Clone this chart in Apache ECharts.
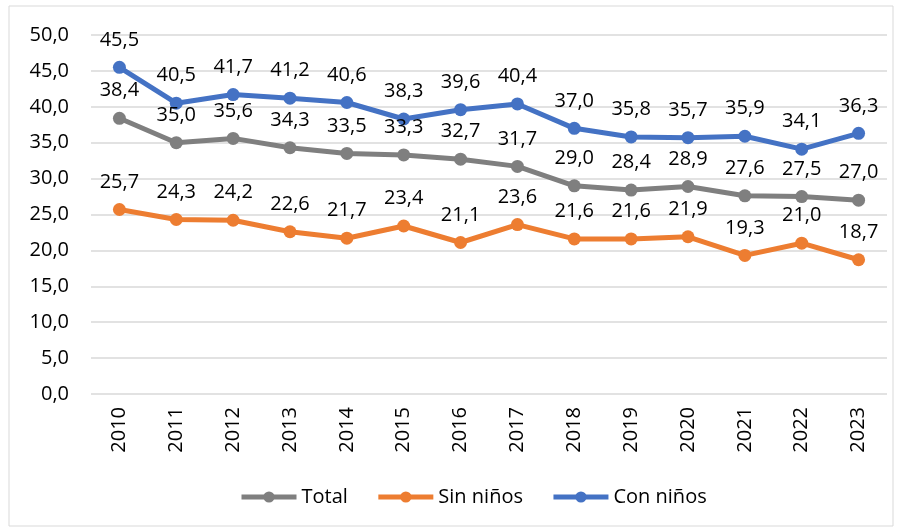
<!DOCTYPE html>
<html>
<head>
<meta charset="utf-8">
<script src="https://cdn.jsdelivr.net/npm/echarts@6/dist/echarts.min.js"></script>
<style>
html,body{margin:0;padding:0;background:#fff;}
#main{width:901px;height:530px;}
</style>
</head>
<body>
<div id="main"></div>
<script>
// datos
var years = ['2010','2011','2012','2013','2014','2015','2016','2017','2018','2019','2020','2021','2022','2023'];
var total = [38.4, 35.0, 35.6, 34.3, 33.5, 33.3, 32.7, 31.7, 29.0, 28.4, 28.9, 27.6, 27.5, 27.0];
var sinNinos = [25.7, 24.3, 24.2, 22.6, 21.7, 23.4, 21.1, 23.6, 21.6, 21.6, 21.9, 19.3, 21.0, 18.7];
var conNinos = [45.5, 40.5, 41.7, 41.2, 40.6, 38.3, 39.6, 40.4, 37.0, 35.8, 35.7, 35.9, 34.1, 36.3];

var FONT = 'Open Sans';

function fmt(v) {
	return v.toFixed(1).replace('.', ',');
}

function serie(name, data, color) {
	return {
		name: name,
		type: 'line',
		data: data,
		symbol: 'circle',
		symbolSize: 13,
		itemStyle: { color: color },
		lineStyle: { color: color, width: 5 },
		label: {
			show: true,
			position: 'top',
			distance: 11,
			color: '#000',
			fontFamily: FONT,
			fontSize: 20,
			formatter: function(p) { return fmt(p.value); }
		},
		animation: false
	};
}

var myChart = echarts.init(document.getElementById('main'));
var option = {
	backgroundColor: '#fff',
	graphic: [{
		type: 'rect',
		shape: { x: 9, y: 6, width: 884, height: 520 },
		style: { fill: 'none', stroke: '#d9d9d9', lineWidth: 1 },
		silent: true
	}],
	grid: { left: 91, right: 14, top: 35, bottom: 136 },
	legend: {
		top: 482,
		left: 234,
		itemWidth: 55,
		itemHeight: 14,
		itemGap: 28,
		lineStyle: { width: 5 },
		textStyle: { fontFamily: FONT, fontSize: 20, color: '#000' },
		data: ['Total', 'Sin niños', 'Con niños']
	},
	xAxis: {
		type: 'category',
		data: years,
		axisLine: { show: false },
		axisTick: { show: false },
		axisLabel: {
			rotate: 90,
			margin: 13,
			color: '#000',
			fontFamily: FONT,
			fontSize: 20
		}
	},
	yAxis: {
		type: 'value',
		min: 0,
		max: 50,
		interval: 5,
		axisLine: { show: false },
		axisTick: { show: false },
		splitLine: { lineStyle: { color: '#d9d9d9', width: 1.5 } },
		axisLabel: {
			margin: 22,
			color: '#000',
			fontFamily: FONT,
			fontSize: 20,
			formatter: function(v) { return fmt(v); }
		}
	},
	series: [
		serie('Total', total, '#7f7f7f'),
		serie('Sin niños', sinNinos, '#ed7d31'),
		serie('Con niños', conNinos, '#4472c4')
	]
};
myChart.setOption(option);
</script>
</body>
</html>
